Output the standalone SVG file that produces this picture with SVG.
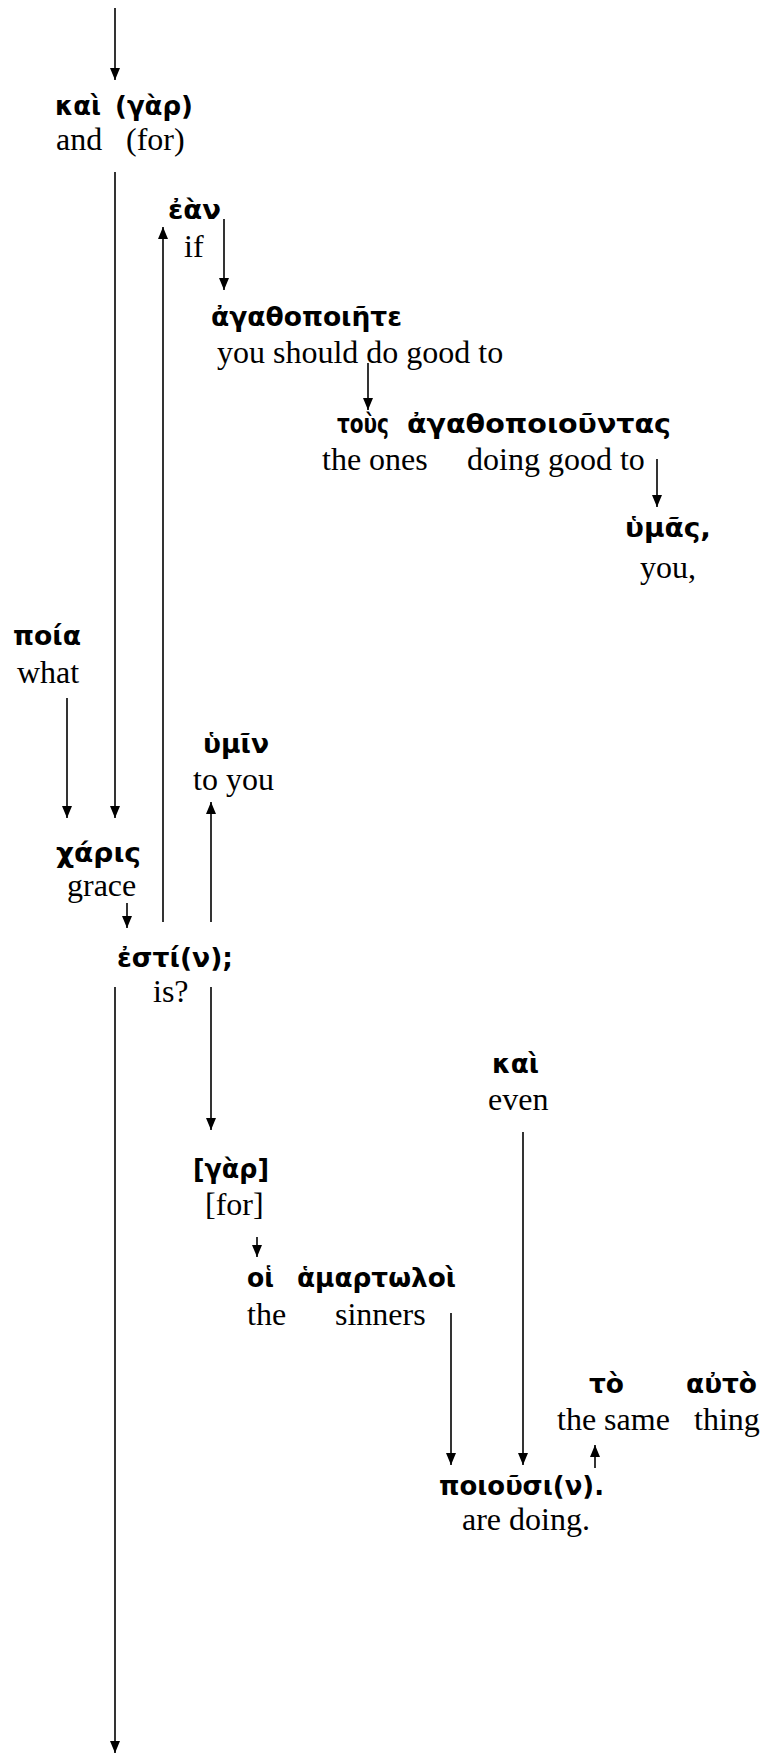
<svg xmlns="http://www.w3.org/2000/svg" width="766" height="1754" viewBox="0 0 766 1754">
  <style>
    .gk { font-family: "DejaVu Sans", "Noto Sans", sans-serif; font-weight: bold; font-size: 27px; fill: #000; }
    .en { font-family: "Liberation Serif", "Times New Roman", serif; font-size: 32px; fill: #000; }
    #connectors line { stroke: #000; stroke-width: 1.6; fill: none; marker-end: url(#ah); }
  </style>
  <defs>
    <marker id="ah" markerUnits="userSpaceOnUse" markerWidth="12" markerHeight="10" refX="12" refY="5" orient="auto">
      <path d="M0,0 L12,5 L0,10 z" fill="#000"/>
    </marker>
  </defs>
  <rect width="766" height="1754" fill="#fff"/>

  <g id="connectors">
    <line x1="115" y1="8" x2="115" y2="80"/>
    <line x1="115" y1="172" x2="115" y2="818"/>
    <line x1="163" y1="922" x2="163" y2="227"/>
    <line x1="224" y1="219" x2="224" y2="290"/>
    <line x1="368" y1="363" x2="368" y2="410"/>
    <line x1="657" y1="459" x2="657" y2="507"/>
    <line x1="67" y1="698" x2="67" y2="818"/>
    <line x1="211" y1="922" x2="211" y2="802"/>
    <line x1="127" y1="903" x2="127" y2="928"/>
    <line x1="115" y1="987" x2="115" y2="1753"/>
    <line x1="211" y1="987" x2="211" y2="1130"/>
    <line x1="523" y1="1132" x2="523" y2="1465"/>
    <line x1="257" y1="1237" x2="257" y2="1257"/>
    <line x1="451" y1="1313" x2="451" y2="1465"/>
    <line x1="595" y1="1468" x2="595" y2="1445"/>
  </g>

  <g id="n-kai-gar">
    <text class="gk" x="55" y="115" textLength="46" lengthAdjust="spacingAndGlyphs">καὶ</text>
    <text class="gk" x="115" y="115" textLength="78" lengthAdjust="spacingAndGlyphs">(γὰρ)</text>
    <text class="en" x="56" y="150">and</text>
    <text class="en" x="126" y="150">(for)</text>
  </g>
  <g id="n-ean">
    <text class="gk" x="168" y="219" textLength="53" lengthAdjust="spacingAndGlyphs">ἐὰν</text>
    <text class="en" x="184" y="257">if</text>
  </g>
  <g id="n-agathopoiete">
    <text class="gk" x="211" y="326" textLength="191" lengthAdjust="spacingAndGlyphs">ἀγαθοποιῆτε</text>
    <text class="en" x="217" y="363">you should do good to</text>
  </g>
  <g id="n-tous-agathopoiountas">
    <text class="gk" x="337" y="433" textLength="52" lengthAdjust="spacingAndGlyphs">τοὺς</text>
    <text class="gk" x="407" y="433" textLength="264" lengthAdjust="spacingAndGlyphs">ἀγαθοποιοῦντας</text>
    <text class="en" x="322" y="470">the ones</text>
    <text class="en" x="467" y="470">doing good to</text>
  </g>
  <g id="n-humas">
    <text class="gk" x="625" y="537" textLength="86" lengthAdjust="spacingAndGlyphs">ὑμᾶς,</text>
    <text class="en" x="640" y="578">you,</text>
  </g>
  <g id="n-poia">
    <text class="gk" x="13" y="645" textLength="68" lengthAdjust="spacingAndGlyphs">ποία</text>
    <text class="en" x="17" y="683">what</text>
  </g>
  <g id="n-humin">
    <text class="gk" x="203" y="753" textLength="66" lengthAdjust="spacingAndGlyphs">ὑμῖν</text>
    <text class="en" x="193" y="790">to you</text>
  </g>
  <g id="n-charis">
    <text class="gk" x="56" y="862" textLength="85" lengthAdjust="spacingAndGlyphs">χάρις</text>
    <text class="en" x="67" y="896">grace</text>
  </g>
  <g id="n-estin">
    <text class="gk" x="117" y="967" textLength="116" lengthAdjust="spacingAndGlyphs">ἐστί(ν);</text>
    <text class="en" x="153" y="1002">is?</text>
  </g>
  <g id="n-kai-even">
    <text class="gk" x="492" y="1073" textLength="47" lengthAdjust="spacingAndGlyphs">καὶ</text>
    <text class="en" x="488" y="1110">even</text>
  </g>
  <g id="n-gar">
    <text class="gk" x="193" y="1178" textLength="76" lengthAdjust="spacingAndGlyphs">[γὰρ]</text>
    <text class="en" x="205" y="1215">[for]</text>
  </g>
  <g id="n-hoi-hamartoloi">
    <text class="gk" x="247" y="1287" textLength="27" lengthAdjust="spacingAndGlyphs">οἱ</text>
    <text class="gk" x="297" y="1287" textLength="159" lengthAdjust="spacingAndGlyphs">ἁμαρτωλοὶ</text>
    <text class="en" x="247" y="1325">the</text>
    <text class="en" x="335" y="1325">sinners</text>
  </g>
  <g id="n-to-auto">
    <text class="gk" x="589" y="1393" textLength="35" lengthAdjust="spacingAndGlyphs">τὸ</text>
    <text class="gk" x="686" y="1393" textLength="71" lengthAdjust="spacingAndGlyphs">αὐτὸ</text>
    <text class="en" x="557" y="1430">the same</text>
    <text class="en" x="694" y="1430">thing</text>
  </g>
  <g id="n-poiousin">
    <text class="gk" x="439" y="1495" textLength="165" lengthAdjust="spacingAndGlyphs">ποιοῦσι(ν).</text>
    <text class="en" x="462" y="1530">are doing.</text>
  </g>
</svg>
